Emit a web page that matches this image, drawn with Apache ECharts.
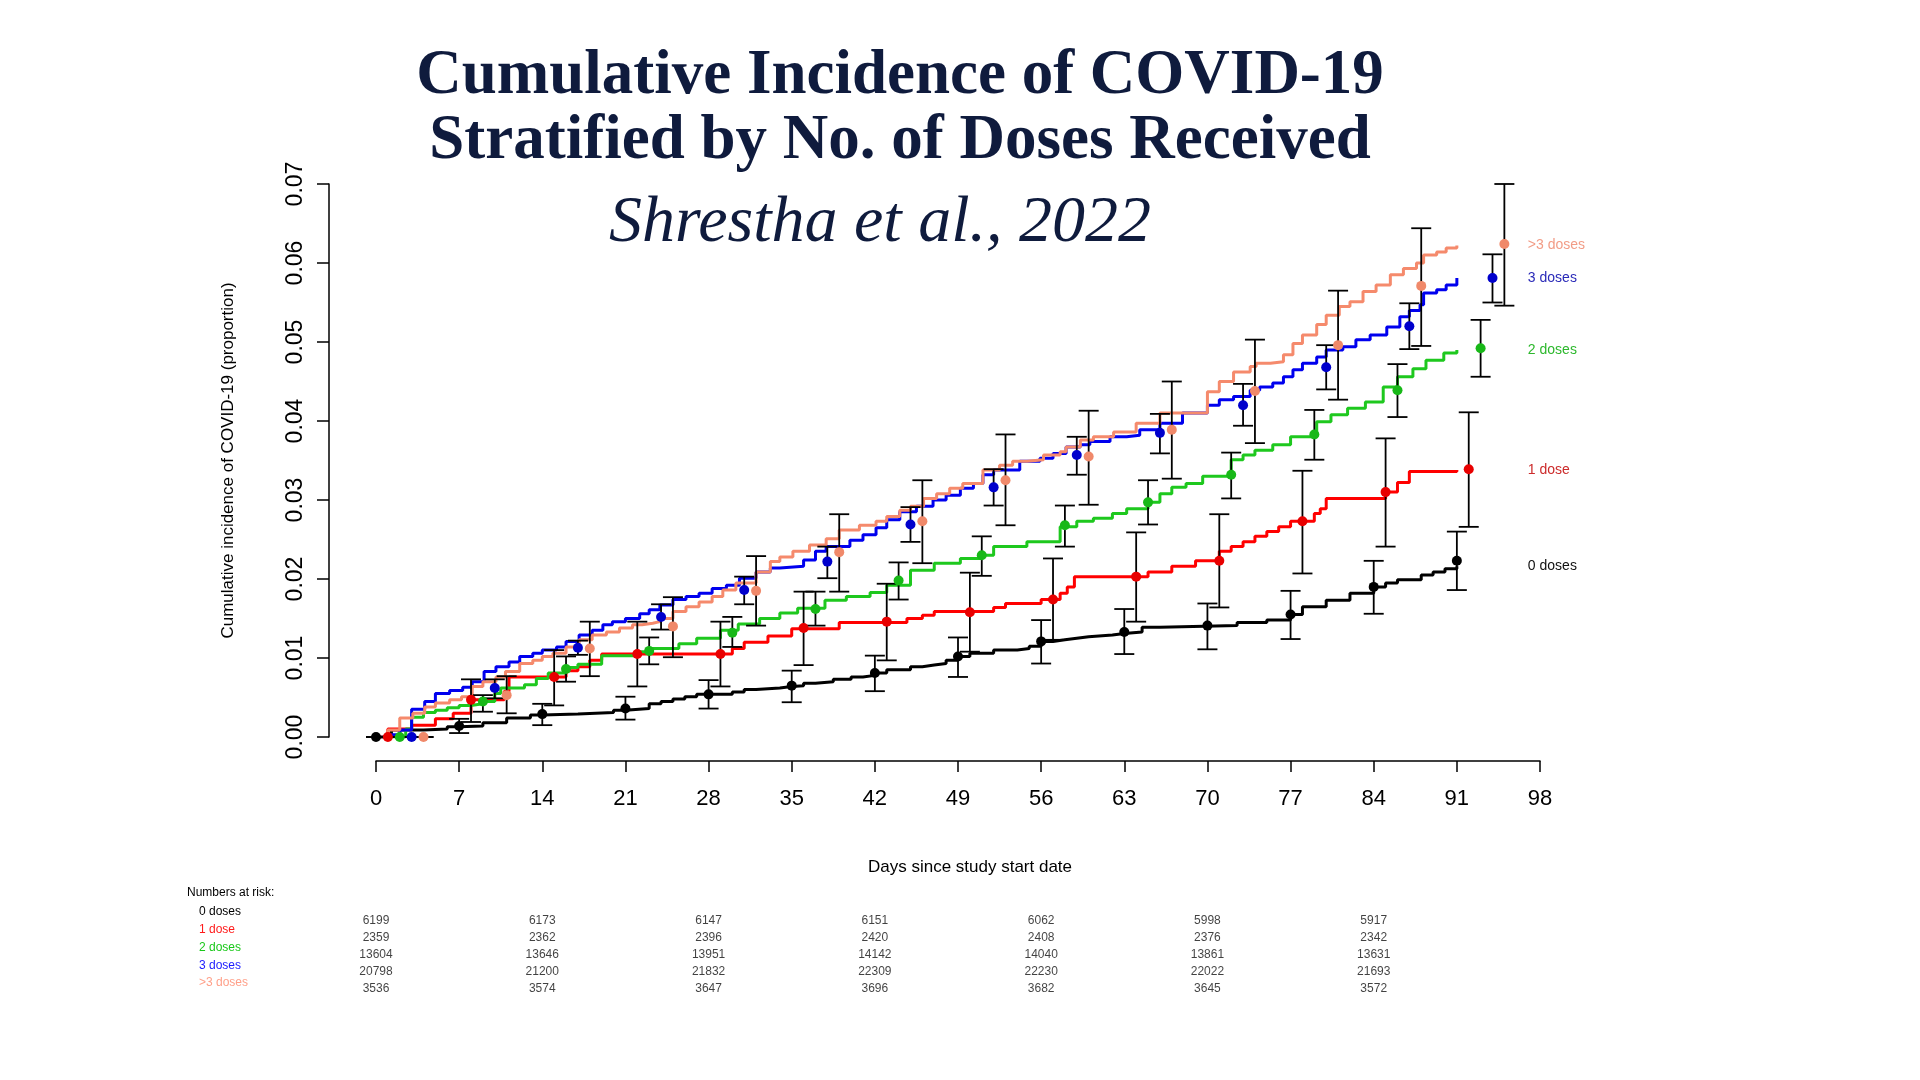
<!DOCTYPE html>
<html><head><meta charset="utf-8">
<script src="https://cdn.jsdelivr.net/npm/echarts@6/dist/echarts.min.js"></script>
<style>html,body{margin:0;padding:0;background:#fff}#c{width:1920px;height:1080px}</style>
</head><body><div id="c"></div>
<script>
// ---------- DATA ----------
const groupNames = ['0 doses', '1 dose', '2 doses', '3 doses', '>3 doses'];
const yTicks = [0, 0.01, 0.02, 0.03, 0.04, 0.05, 0.06, 0.07];
const xTicks = [0, 7, 14, 21, 28, 35, 42, 49, 56, 63, 70, 77, 84, 91, 98];

// step curves: [day, cumulative incidence]
const step0 = [[0,0],[1.3,0.0009],[4,0.001],[6,0.0013],[7,0.0014],[9,0.0018],[11,0.0024],[13,0.0028],[14,0.0029],[17,0.0031],[20,0.0034],[21,0.0036],[23,0.0042],[24,0.0045],[25,0.0048],[26,0.0051],[27,0.0054],[30,0.0057],[31,0.006],[32,0.0062],[34,0.0064],[35,0.0065],[36,0.0068],[37,0.007],[38.5,0.0073],[40,0.0076],[41,0.0078],[42,0.0081],[43,0.0085],[45,0.0089],[46,0.0091],[47,0.0093],[48,0.0097],[49,0.0102],[50,0.0106],[52,0.011],[54,0.0112],[55,0.0115],[56,0.0121],[57,0.0123],[58,0.0125],[59,0.0127],[60,0.0129],[62,0.0131],[63,0.0133],[64.5,0.0139],[66,0.0141],[72.5,0.0145],[75,0.0148],[77,0.0155],[78,0.0165],[80,0.0173],[82,0.0182],[84,0.019],[85,0.0195],[86,0.0199],[88,0.0205],[89,0.0209],[90,0.0213],[91,0.0216]];
const step1 = [[0,0],[1,0.001],[3,0.0015],[5,0.0023],[6.5,0.003],[8,0.0047],[10.8,0.0058],[11.2,0.0076],[16,0.0084],[17,0.0089],[18,0.0097],[19,0.0105],[30,0.0112],[31,0.012],[33,0.0128],[35,0.0137],[39,0.0145],[44.7,0.015],[46,0.0154],[47,0.0159],[52,0.0164],[53,0.0169],[56,0.0174],[57.6,0.0182],[58.2,0.019],[58.8,0.0203],[65,0.0209],[67,0.0216],[69,0.0223],[71,0.0235],[72,0.0241],[73,0.0247],[74,0.0254],[75,0.026],[76,0.0266],[77,0.0273],[79,0.0283],[79.5,0.0289],[80,0.0302],[85,0.031],[86,0.0322],[87,0.0336],[91,0.0338]];
const step2 = [[0,0],[2.5,0.001],[3,0.0025],[4,0.0031],[5,0.0034],[6,0.0037],[7,0.004],[8,0.0042],[9,0.0045],[10,0.0055],[10.5,0.0062],[12.5,0.0066],[13.5,0.0074],[14.5,0.0081],[16,0.0088],[17,0.0092],[19,0.0103],[22.2,0.0108],[23.2,0.0112],[25.5,0.0118],[27,0.0125],[29,0.0135],[30.5,0.0143],[32.3,0.015],[34,0.0157],[35.5,0.0163],[37.8,0.0173],[39.6,0.0178],[41.6,0.0183],[43,0.0192],[45,0.0211],[47,0.022],[49.2,0.0226],[51,0.023],[52,0.0241],[54.8,0.0247],[57.6,0.0266],[59,0.0273],[60.4,0.0277],[62,0.0283],[63.2,0.0289],[65,0.0297],[66,0.0308],[67,0.0316],[68.2,0.0321],[69.6,0.033],[72,0.0351],[73,0.0357],[74,0.0363],[75.5,0.037],[77,0.038],[79.2,0.0399],[80.4,0.0408],[81.8,0.0416],[83.3,0.0424],[84.8,0.0443],[86,0.0456],[87.3,0.0466],[88.4,0.0477],[89.9,0.0486],[91,0.049]];
const step3 = [[0,0],[1,0.0003],[2,0.0009],[3,0.0035],[4.1,0.0045],[5,0.0055],[6.2,0.0059],[7.3,0.0063],[8.1,0.007],[9.1,0.0083],[10.1,0.0089],[11.2,0.0095],[12.1,0.0102],[13.2,0.0106],[14,0.011],[15.2,0.0114],[16,0.0121],[17.1,0.0129],[18.2,0.0135],[19.1,0.0142],[19.9,0.0146],[21,0.015],[22.2,0.0156],[23,0.0161],[23.9,0.0167],[25,0.0174],[26.1,0.0178],[27.2,0.0182],[28.3,0.0188],[29.5,0.0192],[30.6,0.0201],[32,0.0209],[33.2,0.0214],[34,0.0216],[36,0.0224],[37,0.0235],[37.9,0.0241],[39.9,0.0249],[41,0.0256],[42.1,0.0265],[43,0.0275],[44.1,0.0285],[45.5,0.0292],[46.9,0.03],[48,0.0306],[49.2,0.0315],[50.3,0.0321],[51.1,0.0332],[52,0.0338],[54.2,0.0349],[55.9,0.0353],[57,0.0359],[58.1,0.0367],[59.3,0.037],[60.1,0.0374],[61.8,0.038],[63.2,0.0382],[64.3,0.0389],[66,0.0397],[67.9,0.041],[70,0.042],[71,0.0427],[72.2,0.0431],[73.6,0.0439],[74.4,0.0443],[75.5,0.0448],[76.4,0.0456],[77.2,0.0465],[78,0.0473],[79.2,0.0481],[80,0.049],[81.4,0.0494],[82.5,0.0503],[83.7,0.0509],[85.1,0.0519],[86.2,0.0532],[87,0.054],[87.9,0.0547],[88.2,0.0562],[89.3,0.0566],[90.1,0.0572],[91,0.0581]];
const step4 = [[0,0],[1,0.0009],[2,0.0024],[3.1,0.003],[4.1,0.0038],[5,0.0043],[6.2,0.0047],[7.2,0.0051],[8.1,0.0064],[9,0.007],[10.1,0.0076],[10.9,0.0083],[12.1,0.0093],[13.2,0.0097],[14,0.0102],[14.9,0.0106],[16,0.0114],[17.1,0.0123],[18.2,0.0129],[19.4,0.0133],[20.5,0.0138],[21.6,0.0142],[22.4,0.0144],[23.3,0.0146],[23.9,0.015],[25,0.0159],[26.1,0.0165],[27.2,0.0171],[28.3,0.0178],[29.2,0.0186],[30.3,0.0195],[32,0.0209],[33.2,0.0222],[34,0.0228],[35.1,0.0235],[36.5,0.0243],[37.9,0.0251],[39,0.0262],[40.7,0.0268],[42.1,0.0273],[43,0.0279],[44.1,0.0287],[45,0.0292],[46.1,0.0302],[47.2,0.0308],[48.3,0.0315],[49.4,0.0321],[51.1,0.0338],[52.5,0.0344],[53.6,0.0349],[54.8,0.0351],[56.2,0.0357],[57.6,0.0361],[58.1,0.0367],[59.3,0.0376],[60.4,0.038],[62.1,0.0386],[64,0.0397],[66,0.041],[70,0.0437],[71,0.045],[72.2,0.0462],[73.6,0.0469],[74.1,0.0473],[75.3,0.0475],[76.4,0.0484],[77.2,0.0498],[78,0.0509],[79.2,0.0522],[80,0.0534],[81.1,0.0545],[82,0.0551],[83.1,0.0564],[84.2,0.0572],[85.4,0.0585],[86.5,0.0593],[87.6,0.06],[88.2,0.061],[89.3,0.0614],[90.1,0.0619],[91,0.0622]];

// point estimates with 95% CI
const ptDays0 = [0,7,14,21,28,35,42,49,56,63,70,77,84,91];
const ptVal0 = [0,0.0014,0.0029,0.0036,0.0054,0.0065,0.0081,0.0102,0.0121,0.0133,0.0141,0.0155,0.019,0.0223];
const ptLo0 = [0,0.0005,0.0015,0.0022,0.0036,0.0044,0.0058,0.0076,0.0093,0.0105,0.0111,0.0124,0.0156,0.0186];
const ptHi0 = [0,0.0023,0.0042,0.0051,0.0072,0.0084,0.0103,0.0126,0.0148,0.0162,0.0169,0.0185,0.0223,0.026];

const ptDays1 = [1,8,15,22,29,36,43,50,57,64,71,78,85,92];
const ptVal1 = [0,0.0047,0.0076,0.0105,0.0105,0.0138,0.0146,0.0158,0.0174,0.0203,0.0223,0.0273,0.031,0.0339];
const ptLo1 = [0,0.0019,0.004,0.0064,0.0064,0.0091,0.0097,0.0108,0.0123,0.0146,0.0164,0.0207,0.0241,0.0266];
const ptHi1 = [0,0.0073,0.011,0.0146,0.0146,0.0184,0.0194,0.0208,0.0226,0.0259,0.0282,0.0337,0.0378,0.0411];

const ptDays2 = [2,9,16,23,30,37,44,51,58,65,72,79,86,93];
const ptVal2 = [0,0.0045,0.0086,0.0109,0.0132,0.0162,0.0198,0.023,0.0268,0.0297,0.0332,0.0383,0.0439,0.0492];
const ptLo2 = [0,0.0032,0.007,0.0092,0.0114,0.0141,0.0174,0.0204,0.0241,0.0269,0.0302,0.0351,0.0405,0.0456];
const ptHi2 = [0,0.0053,0.0102,0.0126,0.0152,0.0184,0.0221,0.0254,0.0293,0.0325,0.036,0.0414,0.0472,0.0528];

const ptDays3 = [3,10,17,24,31,38,45,52,59,66,73,80,87,94];
const ptVal3 = [0,0.0062,0.0113,0.0152,0.0186,0.0222,0.0269,0.0316,0.0357,0.0385,0.042,0.0468,0.052,0.0581];
const ptLo3 = [0,0.0049,0.0104,0.0136,0.0168,0.0201,0.0247,0.0293,0.0332,0.0359,0.0394,0.044,0.0491,0.055];
const ptHi3 = [0,0.0073,0.0122,0.0168,0.0203,0.0241,0.0291,0.0339,0.038,0.0409,0.0447,0.0496,0.0549,0.0611];

const ptDays4 = [4,11,18,25,32,39,46,53,60,67,74,81,88,95];
const ptVal4 = [0,0.0053,0.0112,0.014,0.0185,0.0234,0.0273,0.0325,0.0355,0.0389,0.0438,0.0496,0.0571,0.0624];
const ptLo4 = [0,0.003,0.0077,0.0101,0.0141,0.0184,0.022,0.0268,0.0294,0.0327,0.0372,0.0427,0.0495,0.0546];
const ptHi4 = [0,0.0077,0.0146,0.0177,0.0229,0.0282,0.0325,0.0383,0.0413,0.045,0.0503,0.0565,0.0644,0.07];

// numbers at risk
const riskDays = [0,14,28,42,56,70,84];
const risk0 = [6199,6173,6147,6151,6062,5998,5917];
const risk1 = [2359,2362,2396,2420,2408,2376,2342];
const risk2 = [13604,13646,13951,14142,14040,13861,13631];
const risk3 = [20798,21200,21832,22309,22230,22022,21693];
const risk4 = [3536,3574,3647,3696,3682,3645,3572];

// ---------- STYLE ----------
const lineColors = ['#000000','#ff0000','#1ec81e','#0000ee','#f58a6c'];
const pointColors = ['#000000','#e80000','#18b818','#0000cc','#f0896a'];
const endLabelColors = ['#111111','#cc2b2b','#2db82d','#2a2ab8','#f29c86'];
const tableColors = ['#000000','#ff1a1a','#19c819','#1a1aff','#ff9f88'];

const steps = [step0, step1, step2, step3, step4];
const ptDays = [ptDays0, ptDays1, ptDays2, ptDays3, ptDays4];
const ptVals = [ptVal0, ptVal1, ptVal2, ptVal3, ptVal4];
const ptLos = [ptLo0, ptLo1, ptLo2, ptLo3, ptLo4];
const ptHis = [ptHi0, ptHi1, ptHi2, ptHi3, ptHi4];
const risks = [risk0, risk1, risk2, risk3, risk4];

const SANS = 'Liberation Sans, Arial, sans-serif';
const SERIF = 'Liberation Serif, Times New Roman, serif';

function errRender(params, api) {
  const x = api.value(0), lo = api.value(1), hi = api.value(2);
  const a = api.coord([x, lo]), b = api.coord([x, hi]);
  const cap = 10;
  const style = { stroke: '#000', lineWidth: 1.8 };
  return { type: 'group', children: [
    { type: 'line', shape: { x1: a[0], y1: a[1], x2: b[0], y2: b[1] }, style },
    { type: 'line', shape: { x1: a[0] - cap, y1: a[1], x2: a[0] + cap, y2: a[1] }, style },
    { type: 'line', shape: { x1: b[0] - cap, y1: b[1], x2: b[0] + cap, y2: b[1] }, style }
  ]};
}

const series = [];
steps.forEach((s, g) => {
  series.push({
    type: 'line', name: groupNames[g], data: s, step: 'end', showSymbol: false, symbol: 'none',
    lineStyle: { color: lineColors[g], width: 3 }, z: 2, silent: true,
    endLabel: { show: true, formatter: groupNames[g], color: endLabelColors[g], fontSize: 14, fontFamily: SANS, distance: 71 }
  });
});
ptDays.forEach((d, g) => {
  series.push({
    type: 'custom', renderItem: errRender, clip: false, z: 3, silent: true,
    encode: { x: 0, y: [1, 2] },
    data: d.map((x, i) => [x, ptLos[g][i], ptHis[g][i]])
  });
});
ptDays.forEach((d, g) => {
  series.push({
    type: 'scatter', symbol: 'circle', symbolSize: 10, clip: false, z: 4, silent: true,
    itemStyle: { color: pointColors[g], opacity: 1 },
    data: d.map((x, i) => [x, ptVals[g][i]])
  });
});
risks.forEach((r, g) => {
  series.push({
    type: 'scatter', xAxisIndex: 1, yAxisIndex: 1, symbolSize: 1, silent: true,
    itemStyle: { color: 'rgba(0,0,0,0)' },
    label: { show: true, position: 'inside', formatter: p => String(p.value[2]), color: '#111', fontSize: 12, fontFamily: SANS },
    data: riskDays.map((x, i) => [x, g, r[i]])
  });
});

const chart = echarts.init(document.getElementById('c'), null, { renderer: 'canvas' });
chart.setOption({
  animation: false,
  backgroundColor: '#ffffff',
  grid: [
    { left: 376, right: 380, top: 184, bottom: 343 },
    { left: 376, right: 380, top: 912.5, height: 85 },
    { left: 376, right: 380, top: 903, height: 89 }
  ],
  xAxis: [
    { type: 'value', gridIndex: 0, min: 0, max: 98, interval: 7, offset: 24,
      axisLine: { show: true, onZero: false, lineStyle: { color: '#000', width: 1.5 } },
      axisTick: { show: true, length: 11, lineStyle: { color: '#000', width: 1.5 } },
      axisLabel: { margin: 27, fontSize: 22, color: '#000', fontFamily: SANS, formatter: v => xTicks.includes(v) ? String(v) : '' },
      splitLine: { show: false } },
    { type: 'value', gridIndex: 1, min: 0, max: 98, show: false },
    { type: 'value', gridIndex: 2, min: 0, max: 98, show: false }
  ],
  yAxis: [
    { type: 'value', gridIndex: 0, min: 0, max: 0.07, interval: 0.01, offset: 47,
      axisLine: { show: true, onZero: false, lineStyle: { color: '#000', width: 1.5 } },
      axisTick: { show: true, length: 12, lineStyle: { color: '#000', width: 1.5 } },
      axisLabel: { rotate: 90, margin: 22, fontSize: 23, color: '#000', fontFamily: SANS,
        formatter: v => yTicks.some(t => Math.abs(t - v) < 1e-9) ? v.toFixed(2) : '' },
      splitLine: { show: false },
      name: 'Cumulative incidence of COVID-19 (proportion)', nameLocation: 'middle', nameGap: 92,
      nameTextStyle: { fontSize: 17, color: '#000', fontFamily: SANS } },
    { type: 'category', gridIndex: 1, inverse: true, data: groupNames, show: false },
    { type: 'category', gridIndex: 2, inverse: true, data: groupNames,
      axisLine: { show: false }, axisTick: { show: false },
      axisLabel: { show: true, align: 'left', margin: 177, fontSize: 12, fontFamily: SANS,
        color: (v, i) => tableColors[i] } }
  ],
  graphic: [
    { type: 'text', x: 900, y: 77, style: { text: 'Cumulative Incidence of COVID-19', font: 'bold 63px ' + SERIF, fill: '#0f1b3d', align: 'center', verticalAlign: 'middle' } },
    { type: 'text', x: 900, y: 142, style: { text: 'Stratified by No. of Doses Received', font: 'bold 63px ' + SERIF, fill: '#0f1b3d', align: 'center', verticalAlign: 'middle' } },
    { type: 'text', x: 880, y: 224, style: { text: 'Shrestha et al., 2022', font: 'italic 66px ' + SERIF, fill: '#0f1b3d', align: 'center', verticalAlign: 'middle' } },
    { type: 'text', x: 970, y: 867, style: { text: 'Days since study start date', font: '17px ' + SANS, fill: '#000', align: 'center', verticalAlign: 'middle' } },
    { type: 'text', x: 187, y: 893, style: { text: 'Numbers at risk:', font: '12px ' + SANS, fill: '#000', align: 'left', verticalAlign: 'middle' } }
  ],
  series: series
});
</script></body></html>
